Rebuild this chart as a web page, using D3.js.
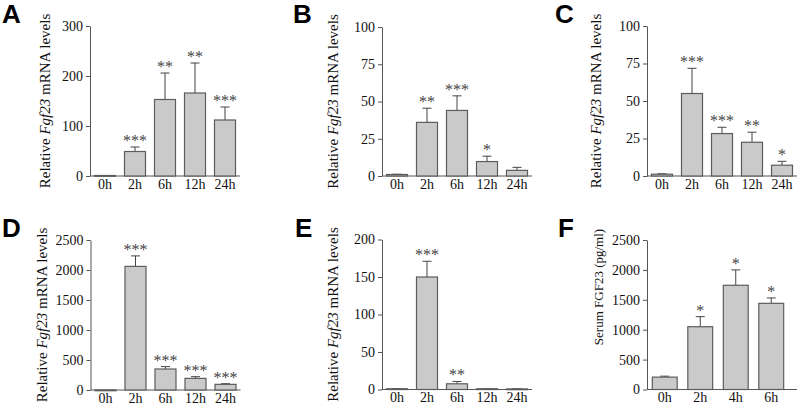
<!DOCTYPE html>
<html>
<head>
<meta charset="utf-8">
<script src="https://cdn.jsdelivr.net/npm/d3@7/dist/d3.min.js"></script>
<style>
  html, body { margin: 0; padding: 0; background: #fff; }
  svg { display: block; }
</style>
</head>
<body>
<svg id="chart" width="800" height="408"></svg>
<script>
// ---- Data ----
const catsHours = ["0h", "2h", "6h", "12h", "24h"];
const catsF = ["0h", "2h", "4h", "6h"];

const meanA = [1, 49, 153, 166, 112];
const errA  = [1, 58, 206, 226, 138];
const sigA  = ["", "***", "**", "**", "***"];
const ticksA = [0, 100, 200, 300];

const meanB = [1, 36, 44, 9.7, 3.8];
const errB  = [1.2, 45.5, 53.8, 13.3, 5.8];
const sigB  = ["", "**", "***", "*", ""];
const ticksB = [0, 25, 50, 75, 100];

const meanC = [1.2, 55, 28.3, 22.5, 7.2];
const errC  = [1.5, 71.8, 32.5, 29.2, 9.8];
const sigC  = ["", "***", "***", "**", "*"];
const ticksC = [0, 25, 50, 75, 100];

const meanD = [1, 2060, 350, 194, 94];
const errD  = [1, 2235, 390, 222, 105];
const sigD  = ["", "***", "***", "***", "***"];
const ticksD = [0, 500, 1000, 1500, 2000, 2500];

const meanE = [1, 150, 7.6, 1, 0.8];
const errE  = [1.2, 171, 10.7, 1.2, 1];
const sigE  = ["", "***", "**", "", ""];
const ticksE = [0, 50, 100, 150, 200];

const meanF = [207, 1050, 1743, 1441];
const errF  = [223, 1218, 2000, 1531];
const sigF  = ["", "*", "*", "*"];
const ticksF = [0, 500, 1000, 1500, 2000, 2500];

// ---- Layout ----
const panels = [
  {letter: "A", cats: catsHours, mean: meanA, err: errA, sig: sigA, ticks: ticksA,
   x0: 90, x1: 240, y0: 176, y1: 26, lx: 2, ly: 23, tx: 50, title: "fgf"},
  {letter: "B", cats: catsHours, mean: meanB, err: errB, sig: sigB, ticks: ticksB,
   x0: 382, x1: 532, y0: 176, y1: 27, lx: 293, ly: 23, tx: 338, title: "fgf"},
  {letter: "C", cats: catsHours, mean: meanC, err: errC, sig: sigC, ticks: ticksC,
   x0: 647, x1: 797, y0: 176, y1: 26, lx: 555, ly: 23, tx: 601, title: "fgf"},
  {letter: "D", cats: catsHours, mean: meanD, err: errD, sig: sigD, ticks: ticksD,
   x0: 90.5, x1: 240.5, y0: 390, y1: 240, lx: 2, ly: 237, tx: 47, title: "fgf"},
  {letter: "E", cats: catsHours, mean: meanE, err: errE, sig: sigE, ticks: ticksE,
   x0: 382, x1: 532, y0: 389.5, y1: 239.5, lx: 295, ly: 237, tx: 338, title: "fgf"},
  {letter: "F", cats: catsF, mean: meanF, err: errF, sig: sigF, ticks: ticksF,
   x0: 647, x1: 789, y0: 389.5, y1: 240, lx: 558, ly: 237, tx: 603, ty: 287, title: "serum", lineEnd: 797}
];

const svg = d3.select("#chart");
const serif = "'Liberation Serif', 'Times New Roman', serif";
const axisColor = "#555";

panels.forEach(p => {
  const g = svg.append("g");
  const x = d3.scaleBand().domain(p.cats).range([p.x0, p.x1]).paddingInner(0.3).paddingOuter(0.15);
  const ymax = p.ticks[p.ticks.length - 1];
  const y = d3.scaleLinear().domain([0, ymax]).range([p.y0, p.y1]);

  // y axis
  const ya = g.append("g").attr("transform", `translate(${p.x0},0)`)
    .call(d3.axisLeft(y).tickValues(p.ticks).tickFormat(d3.format("d"))
      .tickSize(4).tickPadding(3).tickSizeOuter(0));
  ya.attr("font-family", null).attr("font-size", null);
  ya.select(".domain").attr("stroke", axisColor);
  ya.selectAll(".tick line").attr("stroke", axisColor);
  ya.selectAll(".tick text").style("font-family", serif).style("font-size", "14px").attr("fill", "#111");

  // x axis
  const xa = g.append("g").attr("transform", `translate(0,${p.y0})`)
    .call(d3.axisBottom(x).tickSize(0).tickPadding(3));
  xa.attr("font-family", null).attr("font-size", null);
  xa.select(".domain").remove();
  xa.selectAll(".tick text").style("font-family", serif).style("font-size", "14px").attr("fill", "#111");
  g.append("line").attr("x1", p.x0).attr("x2", p.lineEnd || p.x1)
    .attr("y1", p.y0).attr("y2", p.y0).attr("stroke", axisColor).attr("stroke-width", 1);

  const idx = d3.range(p.cats.length);
  // error bars (upper)
  const cap = 4.5;
  idx.forEach(i => {
    const cx = x(p.cats[i]) + x.bandwidth() / 2;
    if (p.err[i] > p.mean[i]) {
      g.append("line").attr("x1", cx).attr("x2", cx)
        .attr("y1", y(p.mean[i])).attr("y2", y(p.err[i]))
        .attr("stroke", "#444").attr("stroke-width", 1);
      g.append("line").attr("x1", cx - cap).attr("x2", cx + cap)
        .attr("y1", y(p.err[i])).attr("y2", y(p.err[i]))
        .attr("stroke", "#444").attr("stroke-width", 1);
    }
  });
  // bars
  g.selectAll("rect.bar").data(idx).join("rect").attr("class", "bar")
    .attr("x", i => x(p.cats[i]))
    .attr("width", x.bandwidth())
    .attr("y", i => y(p.mean[i]))
    .attr("height", i => Math.max(0.8, p.y0 - y(p.mean[i])))
    .attr("fill", "#cacaca").attr("stroke", "#5c5c5c").attr("stroke-width", 1.2);

  // significance stars
  g.selectAll("text.sig").data(idx.filter(i => p.sig[i])).join("text").attr("class", "sig")
    .attr("x", i => x(p.cats[i]) + x.bandwidth() / 2)
    .attr("y", i => y(p.err[i]) - 1)
    .attr("text-anchor", "middle")
    .style("font-family", serif).style("font-size", "16px").attr("fill", "#444")
    .text(i => p.sig[i]);

  // y title
  const cy = p.ty || (p.y0 + p.y1) / 2;
  const t = g.append("text")
    .attr("transform", `translate(${p.tx},${cy}) rotate(-90)`)
    .attr("text-anchor", "middle")
    .style("font-family", serif).attr("fill", "#111");
  if (p.title === "fgf") {
    t.style("font-size", "15px");
    t.append("tspan").text("Relative ");
    t.append("tspan").attr("font-style", "italic").text("Fgf23");
    t.append("tspan").text(" mRNA levels");
  } else {
    t.style("font-size", "13px").text("Serum FGF23 (pg/ml)");
  }

  // panel letter
  g.append("text").attr("x", p.lx).attr("y", p.ly)
    .style("font-family", "'Liberation Sans', Arial, sans-serif")
    .attr("font-weight", "bold").style("font-size", "26px").attr("fill", "#000")
    .text(p.letter);
});
</script>
</body>
</html>
